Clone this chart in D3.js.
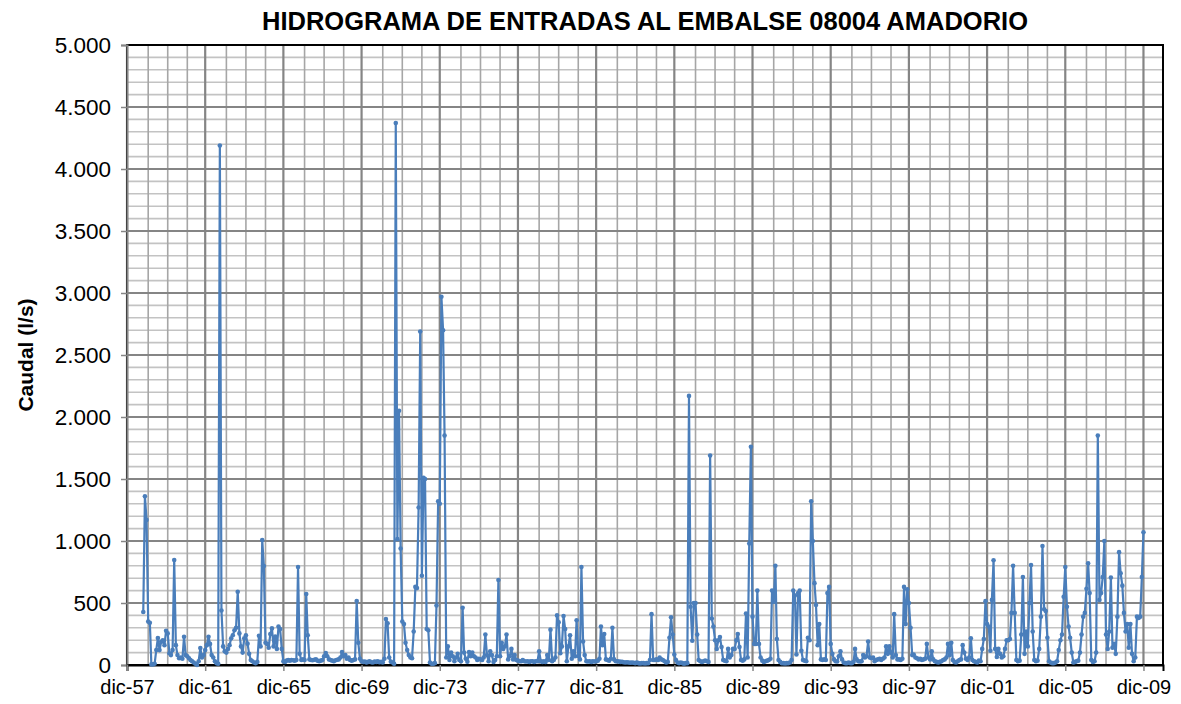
<!DOCTYPE html>
<html>
<head>
<meta charset="utf-8">
<script src="https://cdn.jsdelivr.net/npm/d3@7"></script>
<style>
  body { margin: 0; background: #ffffff; }
  svg { display: block; }
  text { font-family: "Liberation Sans", Arial, sans-serif; fill: #000; }
</style>
</head>
<body>
<svg id="chart" width="1181" height="704"></svg>
<script>
// ---- Texto del gráfico ----
const titulo = "HIDROGRAMA DE ENTRADAS AL EMBALSE 08004 AMADORIO";
const tituloEjeY = "Caudal (l/s)";

// ---- Ejes ----
const mesesAbrev = ["ene", "feb", "mar", "abr", "may", "jun", "jul", "ago", "sep", "oct", "nov", "dic"];
const etiquetasX = ["dic-57", "dic-61", "dic-65", "dic-69", "dic-73", "dic-77", "dic-81",
                    "dic-85", "dic-89", "dic-93", "dic-97", "dic-01", "dic-05", "dic-09"];
const limitesX = ["dic-57", "dic-10"];
const ticksY = [0, 500, 1000, 1500, 2000, 2500, 3000, 3500, 4000, 4500, 5000];

// ---- Serie: caudal medio mensual de entrada (l/s), desde oct-58 ----
const inicioSerie = "oct-58";
const caudal = [
  427, 1360, 1170, 350, 340, 5, 5, 10, 120, 218, 120, 188,
  200, 160, 276, 255, 95, 80, 120, 847, 160, 80, 55, 60,
  50, 228, 80, 70, 55, 40, 30, 20, 10, 0, 30, 137,
  60, 80, 120, 160, 228, 170, 80, 60, 30, 15, 10, 4190,
  440, 150, 110, 100, 130, 160, 215, 240, 280, 300, 591, 255,
  150, 100, 215, 240, 172, 90, 40, 30, 20, 15, 25, 236,
  150, 1008, 798, 180, 170, 140, 250, 295, 150, 230, 130, 310,
  290, 130, 30, 25, 35, 40, 35, 40, 38, 35, 40, 790,
  90, 40, 45, 40, 572, 240, 45, 40, 38, 42, 45, 35,
  30, 35, 40, 70, 97, 70, 45, 40, 35, 30, 38, 42,
  45, 60, 105, 70, 80, 50, 60, 40, 35, 40, 45, 516,
  180, 50, 30, 25, 28, 20, 25, 30, 22, 20, 28, 25,
  30, 22, 25, 20, 50, 371, 336, 60, 27, 20, 10, 4370,
  1015, 2050, 940, 350, 330, 180, 120, 80, 60, 55, 270, 630,
  620, 1270, 2690, 720, 1510, 1500, 290, 280, 20, 10, 10, 15,
  480, 1320, 1300, 2970, 2700, 1850, 60, 150, 40, 100, 70, 30,
  60, 90, 40, 30, 462, 100, 50, 27, 105, 70, 100, 70,
  60, 40, 50, 45, 40, 60, 245, 80, 30, 110, 80, 25,
  40, 70, 685, 70, 180, 130, 150, 245, 45, 70, 130, 45,
  80, 40, 35, 30, 30, 40, 30, 28, 30, 25, 30, 30,
  25, 30, 30, 110, 30, 25, 30, 25, 80, 40, 285, 30,
  40, 60, 400, 345, 95, 150, 395, 290, 30, 150, 240, 50,
  110, 70, 360, 70, 45, 790, 190, 80, 30, 28, 30, 25,
  30, 28, 30, 35, 50, 310, 160, 250, 45, 40, 35, 50,
  300, 45, 30, 30, 28, 25, 25, 22, 20, 22, 20, 18,
  20, 18, 15, 20, 15, 12, 15, 15, 12, 15, 15, 40,
  410, 40, 40, 45, 40, 60, 45, 40, 30, 20, 25, 220,
  385, 245, 85, 40, 20, 15, 20, 15, 10, 15, 15, 2170,
  470, 195, 500, 500, 245, 40, 30, 25, 30, 35, 30, 25,
  1690, 375, 310, 200, 130, 200, 225, 145, 40, 35, 30, 130,
  60, 80, 130, 130, 200, 250, 145, 40, 35, 45, 415, 60,
  980, 1760, 390, 170, 170, 600, 170, 60, 35, 25, 30, 35,
  40, 50, 600, 510, 800, 210, 40, 25, 15, 15, 12, 15,
  15, 20, 40, 600, 560, 85, 580, 600, 115, 40, 35, 30,
  220, 200, 1320, 1000, 660, 484, 160, 330, 45, 40, 45, 40,
  580, 630, 170, 90, 45, 30, 28, 70, 110, 45, 20, 15,
  15, 20, 15, 15, 25, 130, 45, 30, 28, 30, 80, 60,
  70, 190, 60, 55, 60, 30, 40, 45, 50, 40, 50, 60,
  150, 90, 150, 100, 60, 410, 80, 45, 45, 40, 50, 630,
  330, 610, 500, 300, 80, 85, 60, 55, 45, 50, 40, 45,
  50, 170, 60, 45, 110, 45, 30, 25, 20, 25, 30, 40,
  45, 60, 170, 80, 180, 40, 25, 20, 30, 40, 45, 160,
  100, 50, 40, 60, 215, 40, 30, 25, 20, 35, 30, 130,
  210, 515, 330, 310, 115, 525, 845, 130, 65, 130, 90, 60,
  70, 130, 200, 200, 210, 420, 800, 420, 40, 30, 35, 245,
  710, 90, 270, 150, 500, 806, 270, 40, 30, 35, 130, 390,
  960, 450, 435, 220, 30, 20, 15, 15, 20, 30, 120, 200,
  245, 550, 790, 470, 310, 220, 100, 20, 25, 30, 35, 100,
  245, 390, 420, 615, 820, 580, 40, 25, 30, 100, 1850, 525,
  580, 710, 1000, 245, 130, 270, 705, 140, 170, 90, 390, 910,
  740, 640, 420, 270, 330, 140, 330, 90, 30, 60, 390, 380,
  390, 710, 1070
];

// "dic-57" -> Date(1957, 11, 1)
function parseMes(etq) {
  const [m, a] = etq.split("-");
  const yy = +a;
  return new Date(yy > 30 ? 1900 + yy : 2000 + yy, mesesAbrev.indexOf(m), 1);
}

const inicio = parseMes(inicioSerie);
const datos = caudal.map((v, i) => ({ fecha: d3.timeMonth.offset(inicio, i), valor: v }));

// ---- Geometría ----
const svg = d3.select("#chart");
const margen = { left: 127, right: 18, top: 45, bottom: 39 };
const W = +svg.attr("width"), H = +svg.attr("height");
const x0 = margen.left, x1 = W - margen.right, y0 = H - margen.bottom, y1 = margen.top;

const x = d3.scaleTime().domain(limitesX.map(parseMes)).range([x0, x1]);
const y = d3.scaleLinear().domain([0, 5000]).range([y0, y1]);

const fmtEs = d3.formatLocale({ decimal: ",", thousands: ".", grouping: [3], currency: ["", " €"] }).format(",");

// ---- Rejilla ----
const grid = svg.append("g");
const anios = d3.timeMonth.every(12).range(x.domain()[0], d3.timeMonth.offset(x.domain()[1], 1));
const menoresY = d3.range(0, 5001, 100);

grid.selectAll("line.hmin").data(menoresY.filter(v => v % 500 !== 0)).join("line")
  .attr("x1", x0).attr("x2", x1).attr("y1", d => y(d)).attr("y2", d => y(d))
  .attr("stroke", "#c3c3c3").attr("stroke-width", 1.6);
grid.selectAll("line.vmin").data(anios.filter((d, i) => i % 4 !== 0)).join("line")
  .attr("x1", d => x(d)).attr("x2", d => x(d)).attr("y1", y0).attr("y2", y1)
  .attr("stroke", "#a6a6a6").attr("stroke-width", 1.6);
grid.selectAll("line.hmaj").data(ticksY).join("line")
  .attr("x1", x0).attr("x2", x1).attr("y1", d => y(d)).attr("y2", d => y(d))
  .attr("stroke", "#858585").attr("stroke-width", 2.2);
grid.selectAll("line.vmaj").data(etiquetasX.map(parseMes)).join("line")
  .attr("x1", d => x(d)).attr("x2", d => x(d)).attr("y1", y0).attr("y2", y1)
  .attr("stroke", "#858585").attr("stroke-width", 2.2);

// Marco del área de trazado
svg.append("rect")
  .attr("x", x0).attr("y", y1).attr("width", x1 - x0).attr("height", y0 - y1)
  .attr("fill", "none").attr("stroke", "#000").attr("stroke-width", 2);

// ---- Ejes ----
const ejeIzq = svg.append("g").attr("transform", `translate(${x0},0)`)
  .call(d3.axisLeft(y).tickValues(ticksY).tickFormat(fmtEs).tickSize(6).tickPadding(10));
ejeIzq.select(".domain").attr("stroke", "#868686").attr("stroke-width", 2);
ejeIzq.selectAll(".tick line").attr("stroke", "#868686").attr("stroke-width", 1.5);
ejeIzq.selectAll(".tick text").style("font-size", "22.5px").style("font-family", "Liberation Sans, Arial, sans-serif");

const ejeInf = svg.append("g").attr("transform", `translate(0,${y0})`)
  .call(d3.axisBottom(x).tickValues(etiquetasX.map(parseMes))
    .tickFormat((d, i) => etiquetasX[i]).tickSize(6).tickPadding(9));
ejeInf.select(".domain").attr("stroke", "#000").attr("stroke-width", 2);
ejeInf.selectAll(".tick line").attr("stroke", "#868686").attr("stroke-width", 1.5);
ejeInf.selectAll(".tick text").style("font-size", "20px").style("font-family", "Liberation Sans, Arial, sans-serif");

// ---- Serie ----
const linea = d3.line().x(d => x(d.fecha)).y(d => y(d.valor));
svg.append("path").datum(datos)
  .attr("d", linea).attr("fill", "none")
  .attr("stroke", "#4a7ebb").attr("stroke-width", 2.2).attr("stroke-linejoin", "round");
svg.append("g").selectAll("circle").data(datos).join("circle")
  .attr("cx", d => x(d.fecha)).attr("cy", d => y(d.valor)).attr("r", 2.3)
  .attr("fill", "#4a7ebb");

// ---- Títulos ----
svg.append("text")
  .attr("x", (x0 + x1) / 2).attr("y", 29.5).attr("text-anchor", "middle")
  .style("font-size", "25.5px").style("font-weight", "bold").text(titulo);
svg.append("text")
  .attr("transform", `translate(33,${(y0 + y1) / 2}) rotate(-90)`)
  .attr("text-anchor", "middle")
  .style("font-size", "21px").style("font-weight", "bold").text(tituloEjeY);
</script>
</body>
</html>
